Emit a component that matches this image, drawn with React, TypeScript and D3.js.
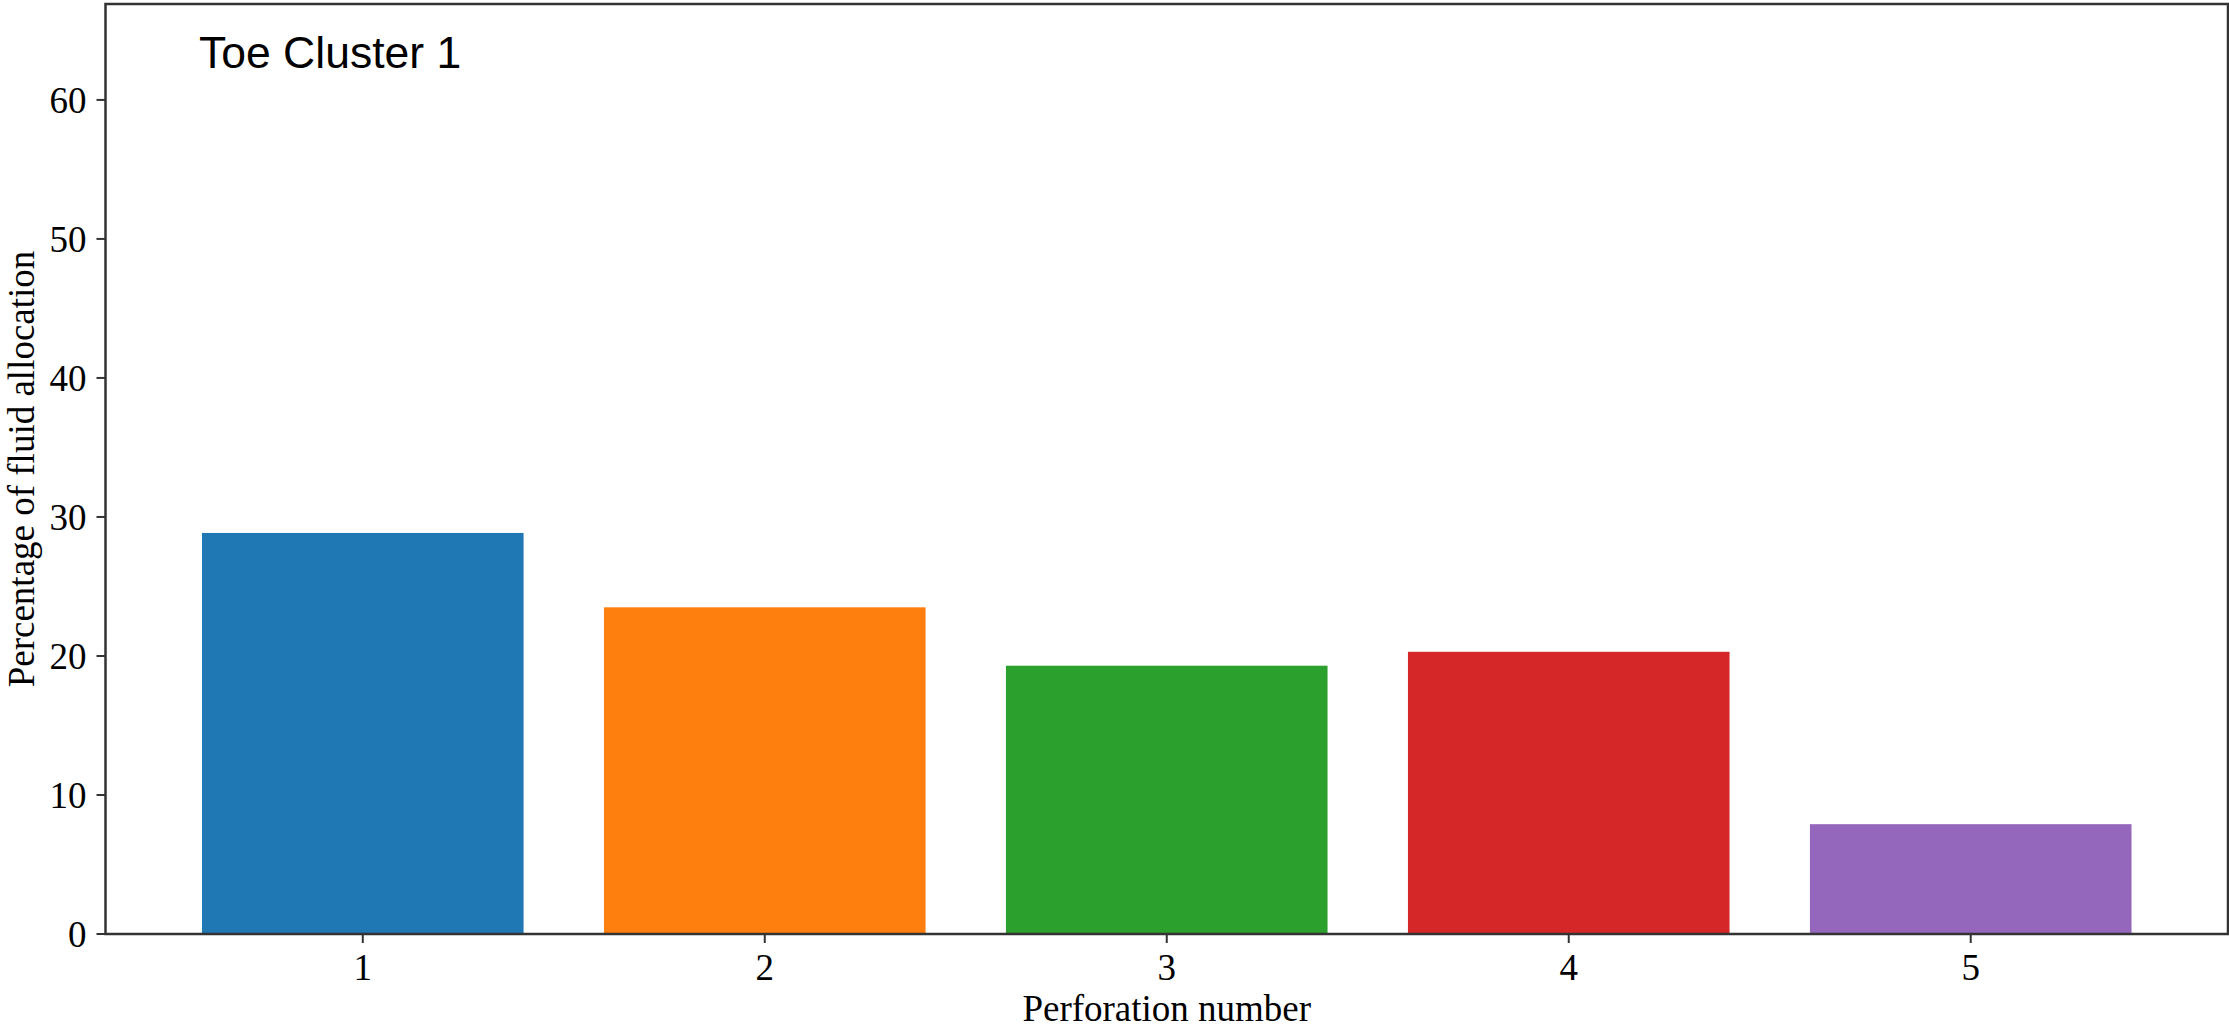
import React, { useEffect, useRef } from "react";
import * as d3 from "d3";

const categories: number[] = [1, 2, 3, 4, 5];
const values: number[] = [28.85, 23.5, 19.3, 20.3, 7.9];
const colors: string[] = ["#1f77b4", "#ff7f0e", "#2ca02c", "#d62728", "#9467bd"];
const yTicks: number[] = [0, 10, 20, 30, 40, 50, 60];
const titleText = "Toe Cluster 1";
const xLabel = "Perforation number";
const yLabel = "Percentage of fluid allocation";

const W = 2229;
const H = 1030;
const left = 105.5;
const right = 2228;
const top = 4;
const bottom = 934;

export default function App() {
  const ref = useRef<SVGSVGElement>(null);
  useEffect(() => {
    const svg = d3.select(ref.current);
    svg.selectAll("*").remove();
    const x = d3.scaleLinear().domain([0.36, 5.64]).range([left, right]);
    const y = d3.scaleLinear().domain([0, 66.9]).range([bottom, top]);
    const serif = "'Liberation Serif', 'Times New Roman', serif";
    const fs = 37;

    svg.append("g")
      .selectAll("rect")
      .data(categories)
      .join("rect")
      .attr("x", (d) => x(d - 0.4))
      .attr("width", (d) => x(d + 0.4) - x(d - 0.4))
      .attr("y", (_, i) => y(values[i]))
      .attr("height", (_, i) => y(0) - y(values[i]))
      .attr("fill", (_, i) => colors[i]);

    const axisColor = "#333";
    const yg = svg.append("g");
    yTicks.forEach((t) => {
      yg.append("line").attr("x1", left - 9).attr("x2", left).attr("y1", y(t)).attr("y2", y(t))
        .attr("stroke", axisColor).attr("stroke-width", 2);
      yg.append("text").attr("x", left - 19).attr("y", y(t)).attr("dy", "0.35em")
        .attr("text-anchor", "end").attr("font-family", serif).attr("font-size", fs)
        .attr("fill", "#000").text(String(t));
    });
    const xg = svg.append("g");
    categories.forEach((c) => {
      xg.append("line").attr("x1", x(c)).attr("x2", x(c)).attr("y1", bottom).attr("y2", bottom + 9)
        .attr("stroke", axisColor).attr("stroke-width", 2);
      xg.append("text").attr("x", x(c)).attr("y", 980)
        .attr("text-anchor", "middle").attr("font-family", serif).attr("font-size", fs)
        .attr("fill", "#000").text(String(c));
    });
    svg.append("rect").attr("x", left).attr("y", top).attr("width", right - left).attr("height", bottom - top)
      .attr("fill", "none").attr("stroke", axisColor).attr("stroke-width", 2.5);

    svg.append("text").attr("x", (left + right) / 2).attr("y", 1021).attr("text-anchor", "middle")
      .attr("font-family", serif).attr("font-size", fs).attr("fill", "#000").text(xLabel);
    svg.append("text").attr("transform", `translate(34, ${(top + bottom) / 2}) rotate(-90)`)
      .attr("text-anchor", "middle").attr("font-family", serif).attr("font-size", fs)
      .attr("fill", "#000").text(yLabel);

    svg.append("text").attr("x", 199).attr("y", 68)
      .attr("font-family", "'Liberation Sans', Arial, sans-serif").attr("font-size", 44.5)
      .attr("fill", "#000").text(titleText);
  }, []);
  return (
    <svg ref={ref} width={W} height={H}
      style={{ position: "fixed", left: 0, top: 0, background: "#fff", display: "block" }} />
  );
}
